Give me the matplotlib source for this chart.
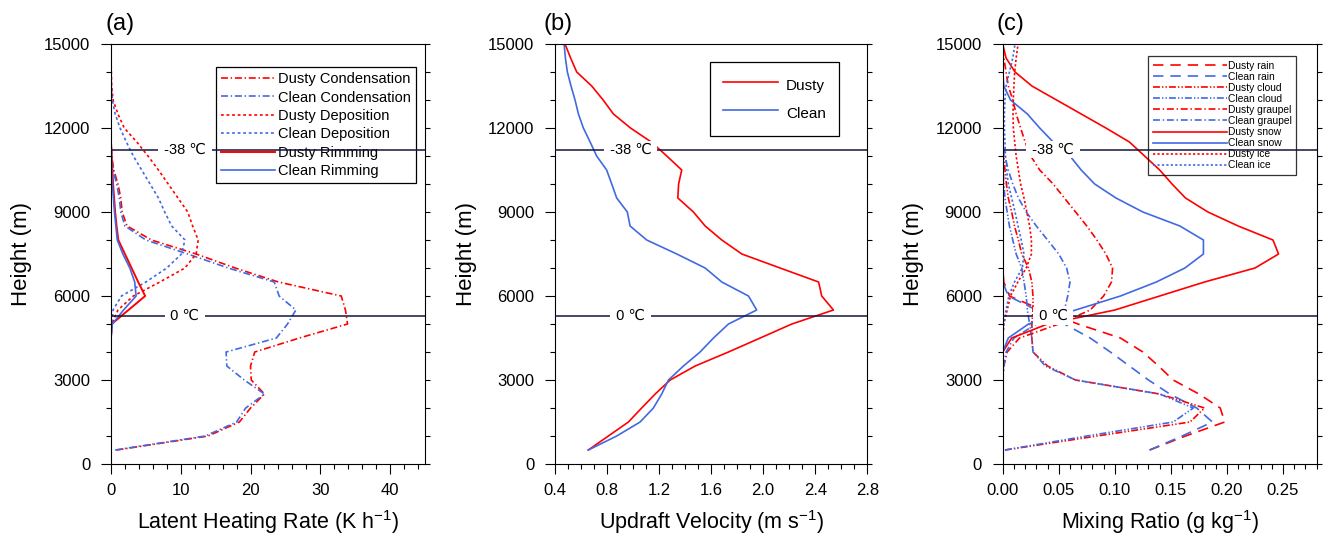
import matplotlib
matplotlib.use("Agg")
import matplotlib.pyplot as plt
from matplotlib.ticker import MultipleLocator, FormatStrFormatter

plt.rcParams["font.family"] = ["Liberation Sans", "DejaVu Sans"]
plt.rcParams["mathtext.fontset"] = "custom"
plt.rcParams["mathtext.rm"] = "Liberation Sans"
plt.rcParams["mathtext.it"] = "Liberation Sans:italic"
plt.rcParams["lines.scale_dashes"] = False

RED = "#ff0000"
BLUE = "#4169e1"
DARK = "#15153a"

# model levels (m)
height = [500, 1000, 1500, 2000, 2500, 3000, 3500, 4000, 4500, 5000,
          5500, 6000, 6500, 7000, 7500, 8000, 8500, 9000, 9500, 10000,
          10500, 11000, 11500, 12000, 12500, 13000, 13500, 14000, 14500, 15000]

# (a) latent heating rate (K/h)
dusty_cond = [0.8, 13.9, 18.4, 20.0, 22.0, 20.1, 20.0, 20.6, 27.0, 33.9,
              33.6, 33.0, 24.0, 17.8, 12.2, 5.8, 2.3, 1.6, 1.4, 1.0,
              0.4, 0.1, 0, 0, 0, 0, 0, 0, 0, 0]
clean_cond = [0.6, 13.5, 18.0, 19.3, 22.0, 19.1, 16.6, 16.5, 23.7, 25.3,
              26.5, 24.1, 23.4, 16.8, 11.0, 5.0, 2.0, 1.4, 1.2, 0.8,
              0.3, 0.1, 0, 0, 0, 0, 0, 0, 0, 0]
dusty_dep = [0, 0, 0, 0, 0, 0, 0, 0, 0, 0.1,
             1.0, 3.2, 7.0, 10.6, 12.2, 12.5, 11.7, 11.0, 9.6, 8.2,
             6.8, 5.3, 3.7, 1.9, 1.0, 0.3, 0.1, 0.05, 0, 0]
clean_dep = [0, 0, 0, 0, 0, 0, 0, 0, 0, 0.1,
             0.3, 1.5, 5.0, 8.0, 10.1, 10.6, 8.7, 7.7, 6.8, 5.6,
             4.4, 3.2, 2.2, 1.3, 0.6, 0.2, 0.05, 0, 0, 0]
dusty_rim = [0, 0, 0, 0, 0, 0, 0, 0, 0, 0.1,
             2.5, 4.9, 3.9, 2.95, 2.0, 1.05, 0.8, 0.6, 0.45, 0.3,
             0.2, 0.1, 0, 0, 0, 0, 0, 0, 0, 0]
clean_rim = [0, 0, 0, 0, 0, 0, 0, 0, 0, 0.2,
             1.8, 3.6, 3.4, 2.7, 1.7, 0.9, 0.7, 0.5, 0.35, 0.2,
             0.1, 0.05, 0, 0, 0, 0, 0, 0, 0, 0]

# (b) updraft velocity (m/s)
dusty_w = [0.656, 0.81, 0.964, 1.066, 1.17, 1.285, 1.477, 1.733, 1.977, 2.22,
           2.54, 2.45, 2.426, 2.13, 1.836, 1.682, 1.554, 1.464, 1.344, 1.35,
           1.374, 1.259, 1.14, 0.98, 0.849, 0.77, 0.682, 0.567, 0.52, 0.477]
clean_w = [0.656, 0.874, 1.054, 1.156, 1.22, 1.272, 1.387, 1.515, 1.618, 1.733,
           1.95, 1.887, 1.682, 1.554, 1.336, 1.105, 0.977, 0.956, 0.874, 0.836,
           0.797, 0.72, 0.67, 0.618, 0.58, 0.554, 0.523, 0.495, 0.48, 0.47]

# (c) mixing ratio (g/kg)
dusty_rain = [0.131, 0.163, 0.198, 0.194, 0.175, 0.152, 0.139, 0.125, 0.105, 0.067,
              0.035, 0.006, 0.001, 0, 0, 0, 0, 0, 0, 0,
              0, 0, 0, 0, 0, 0, 0, 0, 0, 0]
clean_rain = [0.131, 0.16, 0.187, 0.173, 0.149, 0.13, 0.113, 0.096, 0.078, 0.055,
              0.03, 0.005, 0, 0, 0, 0, 0, 0, 0, 0,
              0, 0, 0, 0, 0, 0, 0, 0, 0, 0]
dusty_cloud = [0.002, 0.084, 0.167, 0.18, 0.14, 0.065, 0.04, 0.027, 0.026, 0.026,
               0.027, 0.027, 0.026, 0.023, 0.017, 0.014, 0.0105, 0.008, 0.005, 0.0033,
               0.002, 0.001, 0, 0, 0, 0, 0, 0, 0, 0]
clean_cloud = [0.002, 0.075, 0.152, 0.17, 0.14, 0.065, 0.038, 0.027, 0.026, 0.024,
               0.022, 0.021, 0.019, 0.017, 0.012, 0.009, 0.006, 0.004, 0.002, 0.001,
               0.0005, 0, 0, 0, 0, 0, 0, 0, 0, 0]
dusty_graupel = [0, 0, 0, 0, 0, 0, 0.001, 0.004, 0.015, 0.05,
                 0.078, 0.09, 0.097, 0.098, 0.092, 0.084, 0.075, 0.065, 0.055, 0.045,
                 0.033, 0.025, 0.02, 0.016, 0.012, 0.009, 0.005, 0.003, 0.001, 0]
clean_graupel = [0, 0, 0, 0, 0, 0, 0.001, 0.003, 0.01, 0.03,
                 0.055, 0.058, 0.06, 0.057, 0.05, 0.04, 0.03, 0.021, 0.014, 0.009,
                 0.005, 0.002, 0, 0, 0, 0, 0, 0, 0, 0]
dusty_snow = [0, 0, 0, 0, 0, 0, 0, 0, 0.008, 0.04,
              0.10, 0.14, 0.18, 0.225, 0.246, 0.241, 0.21, 0.183, 0.163, 0.151,
              0.14, 0.1265, 0.113, 0.092, 0.07, 0.048, 0.026, 0.011, 0.003, 0]
clean_snow = [0, 0, 0, 0, 0, 0, 0, 0, 0.005, 0.023,
              0.065, 0.105, 0.137, 0.1625, 0.179, 0.179, 0.158, 0.125, 0.101, 0.082,
              0.07, 0.06, 0.045, 0.033, 0.022, 0.007, 0.001, 0, 0, 0]
dusty_ice = [0, 0, 0, 0, 0, 0, 0, 0, 0, 0.001,
             0.004, 0.007, 0.0135, 0.021, 0.0256, 0.0256, 0.024, 0.0215, 0.019, 0.016,
             0.014, 0.012, 0.0107, 0.0095, 0.0092, 0.0095, 0.010, 0.0107, 0.012, 0.0137]
clean_ice = [0, 0, 0, 0, 0, 0, 0, 0, 0, 0.001,
             0.003, 0.0055, 0.0105, 0.0175, 0.019, 0.0165, 0.0137, 0.011, 0.008, 0.005,
             0.0035, 0.0025, 0.002, 0.0015, 0.0015, 0.002, 0.003, 0.006, 0.009, 0.011]

# isotherm heights (m)
h_m38 = 11230
h_0 = 5280

DASHDOT = (0, (5, 2, 1, 2))
DOTTED = (0, (2, 2))
LONGDASH = (0, (7.5, 5))
DASHDOTDOT = (0, (5, 1.5, 1, 1.5, 1, 1.5))
FINEDOT = (0, (1.6, 1.6))


def style_axis(ax, xlim, xmajor, xminor, fmt):
    ax.set_xlim(*xlim)
    ax.set_ylim(0, 15000)
    ax.xaxis.set_major_locator(MultipleLocator(xmajor))
    ax.xaxis.set_minor_locator(MultipleLocator(xminor))
    ax.xaxis.set_major_formatter(FormatStrFormatter(fmt))
    ax.yaxis.set_major_locator(MultipleLocator(3000))
    ax.yaxis.set_minor_locator(MultipleLocator(1000))
    ax.tick_params(which="both", direction="out", top=False, right=True,
                   labelsize=12, width=0.8)
    ax.tick_params(which="major", length=7)
    ax.tick_params(which="minor", length=3.5)
    ax.tick_params(axis="x", pad=7)
    ax.tick_params(axis="y", pad=8)
    for t in ax.yaxis.get_major_ticks():
        t.tick2line.set_markersize(3.5)
    for s in ax.spines.values():
        s.set_linewidth(0.8)
    ax.set_ylabel("Height (m)", fontsize=16)
    ax.yaxis.set_label_coords(-0.25, 0.5)


def isotherms(ax, xpos):
    for h, lab in [(h_m38, " -38 \u2103 "), (h_0, " 0 \u2103 ")]:
        ax.axhline(h, color=DARK, lw=1.1, zorder=6)
        ax.text(xpos, h, lab, ha="center", va="center", fontsize=10.5, zorder=7,
                bbox=dict(boxstyle="square,pad=0.12", fc="white", ec="none"))


def panel_label(ax, x, s):
    ax.text(x, 1.022, s, transform=ax.transAxes, ha="left", va="bottom", fontsize=17)


fig = plt.figure(figsize=(13.26, 5.39), dpi=100)
bottom, h_ax = 0.1391, 0.7793

# (a)
ax = fig.add_axes([0.0837, bottom, 0.2368, h_ax])
ax.plot(dusty_cond, height, color=RED, lw=1.2, ls=DASHDOT, label="Dusty Condensation")
ax.plot(clean_cond, height, color=BLUE, lw=1.2, ls=DASHDOT, label="Clean Condensation")
ax.plot(dusty_dep, height, color=RED, lw=1.2, ls=DOTTED, label="Dusty Deposition")
ax.plot(clean_dep, height, color=BLUE, lw=1.2, ls=DOTTED, label="Clean Deposition")
ax.plot(dusty_rim, height, color=RED, lw=1.4, label="Dusty Rimming")
ax.plot(clean_rim, height, color=BLUE, lw=1.2, label="Clean Rimming")
style_axis(ax, (0, 45), 10, 2, "%d")
ax.set_xlabel("Latent Heating Rate (K h$^{-1}$)", fontsize=15.5)
ax.xaxis.set_label_coords(0.5, -0.105)
isotherms(ax, 10.6)
leg = ax.legend(loc="upper left", bbox_to_anchor=(0.334, 0.945), fontsize=10.5,
                handlelength=3.7, handletextpad=0.2, labelspacing=0.3, borderpad=0.35,
                borderaxespad=0, fancybox=False, edgecolor="black", framealpha=1)
leg.get_frame().set_linewidth(0.9)
panel_label(ax, -0.016, "(a)")

# (b)
ax = fig.add_axes([0.41855, bottom, 0.2355, h_ax])
ax.plot(dusty_w, height, color=RED, lw=1.2, label="Dusty")
ax.plot(clean_w, height, color=BLUE, lw=1.2, label="Clean")
style_axis(ax, (0.4, 2.8), 0.4, 0.1, "%.1f")
ax.set_xlabel("Updraft Velocity (m s$^{-1}$)", fontsize=15.5)
ax.xaxis.set_label_coords(0.5, -0.105)
isotherms(ax, 0.98)
leg = ax.legend(loc="upper left", bbox_to_anchor=(0.497, 0.957), fontsize=11,
                handlelength=3.6, handletextpad=0.5, handleheight=1.6,
                labelspacing=0.55, borderpad=0.85, borderaxespad=0,
                fancybox=False, edgecolor="black", framealpha=1)
leg.get_frame().set_linewidth(0.9)
panel_label(ax, -0.038, "(b)")

# (c)
ax = fig.add_axes([0.75618, bottom, 0.2368, h_ax])
ax.plot(dusty_rain, height, color=RED, lw=1.2, ls=LONGDASH, label="Dusty rain")
ax.plot(clean_rain, height, color=BLUE, lw=1.2, ls=LONGDASH, label="Clean rain")
ax.plot(dusty_cloud, height, color=RED, lw=1.2, ls=DASHDOTDOT, label="Dusty cloud")
ax.plot(clean_cloud, height, color=BLUE, lw=1.2, ls=DASHDOTDOT, label="Clean cloud")
ax.plot(dusty_graupel, height, color=RED, lw=1.2, ls=DASHDOT, label="Dusty graupel")
ax.plot(clean_graupel, height, color=BLUE, lw=1.2, ls=DASHDOT, label="Clean graupel")
ax.plot(dusty_snow, height, color=RED, lw=1.2, label="Dusty snow")
ax.plot(clean_snow, height, color=BLUE, lw=1.2, label="Clean snow")
ax.plot(dusty_ice, height, color=RED, lw=1.2, ls=FINEDOT, label="Dusty ice")
ax.plot(clean_ice, height, color=BLUE, lw=1.2, ls=FINEDOT, label="Clean ice")
style_axis(ax, (0, 0.28), 0.05, 0.01, "%.2f")
ax.set_xlabel("Mixing Ratio (g kg$^{-1}$)", fontsize=15.5)
ax.xaxis.set_label_coords(0.5, -0.105)
isotherms(ax, 0.045)
leg = ax.legend(loc="upper left", bbox_to_anchor=(0.4627, 0.9706), fontsize=7.4,
                handlelength=7.2, handletextpad=0.1, labelspacing=0.1, borderpad=0.45,
                borderaxespad=0, fancybox=False, edgecolor="black", facecolor="none")
leg.get_frame().set_linewidth(0.9)
panel_label(ax, -0.019, "(c)")

fig.savefig("out.png", dpi=100)
